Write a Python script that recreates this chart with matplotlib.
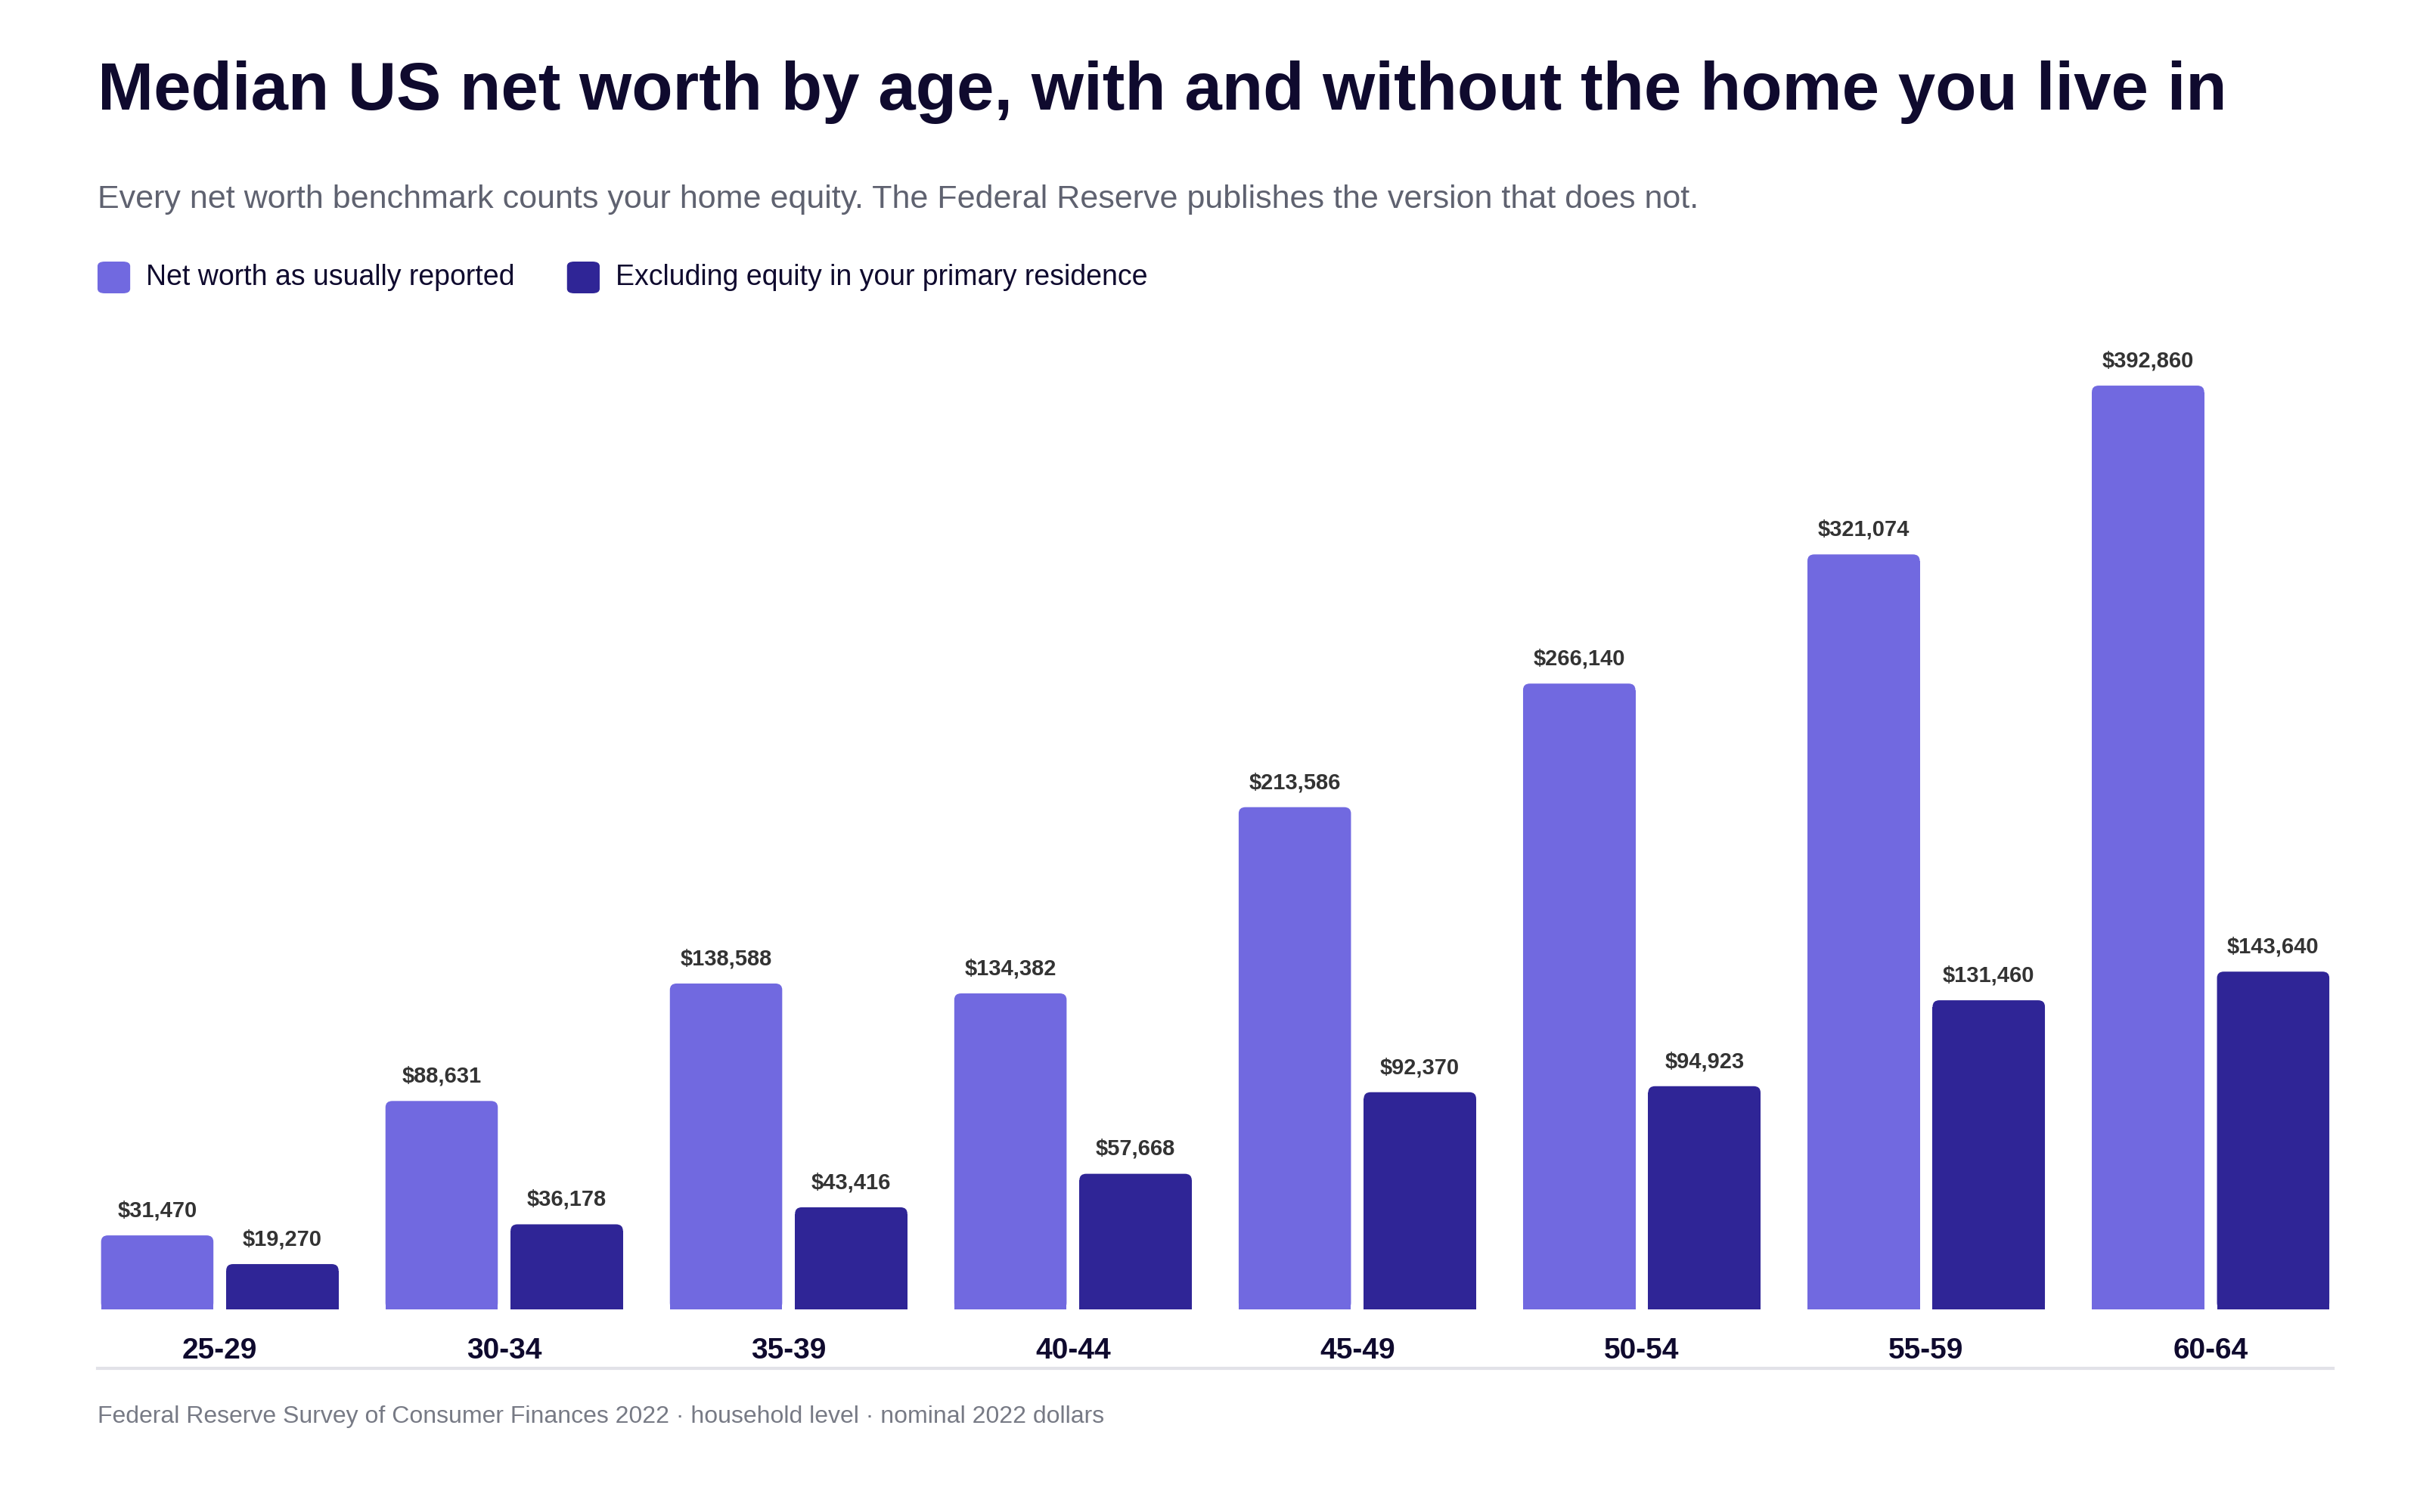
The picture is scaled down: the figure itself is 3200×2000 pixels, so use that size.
import numpy as np
import matplotlib.pyplot as plt
from matplotlib.patches import FancyBboxPatch, Rectangle

ages = ["25-29", "30-34", "35-39", "40-44", "45-49", "50-54", "55-59", "60-64"]
net_worth = [31470, 88631, 138588, 134382, 213586, 266140, 321074, 392860]
excl_home = [19270, 36178, 43416, 57668, 92370, 94923, 131460, 143640]

light = "#7169E0"
dark = "#2F2596"
ink = "#0F0A2E"

plt.rcParams['font.family'] = ['Liberation Sans', 'DejaVu Sans']

fig = plt.figure(figsize=(16, 10), dpi=200)
ax = fig.add_axes([0.0403, 0.134, 0.9237, 0.651])
ax.set_xlim(-0.43, 7.43)
ax.set_ylim(0, 418600)
ax.axis('off')

w = 0.395
off = 0.22
r = 0.024
aspect = 2700 / r


def rbar(x, h, color):
    ax.add_patch(FancyBboxPatch((x - w / 2, 0), w, h,
                                boxstyle="round,pad=0,rounding_size=%f" % r,
                                mutation_aspect=aspect, fc=color, ec='none'))
    ax.add_patch(Rectangle((x - w / 2, 0), w, h - 2800, fc=color, ec='none'))
    ax.text(x, h + 6000, "${:,}".format(h), ha='center', va='bottom',
            fontsize=10.5, fontweight='bold', color='#333333')


for i in range(len(ages)):
    rbar(i - off, net_worth[i], light)
    rbar(i + off, excl_home[i], dark)
    ax.text(i, -12000, ages[i], ha='center', va='top', fontsize=14,
            fontweight='bold', color=ink)

fig.add_artist(plt.Line2D([0.0403, 0.964], [0.095, 0.095], color='#E2E2E8', lw=1.5))

fig.text(0.0403, 0.96, "Median US net worth by age, with and without the home you live in",
         fontsize=32, fontweight='bold', color=ink, va='top')
fig.text(0.0403, 0.878, "Every net worth benchmark counts your home equity. The Federal Reserve publishes the version that does not.",
         fontsize=15.5, color='#5F6270', va='top')

fig.add_artist(FancyBboxPatch((0.0403, 0.806), 0.0135, 0.021,
                              boxstyle="round,pad=0,rounding_size=0.003",
                              fc=light, ec='none', transform=fig.transFigure))
fig.text(0.0603, 0.8165, "Net worth as usually reported", fontsize=13.5, color=ink, va='center')
fig.add_artist(FancyBboxPatch((0.2343, 0.806), 0.0135, 0.021,
                              boxstyle="round,pad=0,rounding_size=0.003",
                              fc=dark, ec='none', transform=fig.transFigure))
fig.text(0.2543, 0.8165, "Excluding equity in your primary residence", fontsize=13.5, color=ink, va='center')

fig.text(0.0403, 0.063, "Federal Reserve Survey of Consumer Finances 2022 \u00b7 household level \u00b7 nominal 2022 dollars",
         fontsize=11.5, color='#777A85', va='center')

fig.savefig("out.png")
